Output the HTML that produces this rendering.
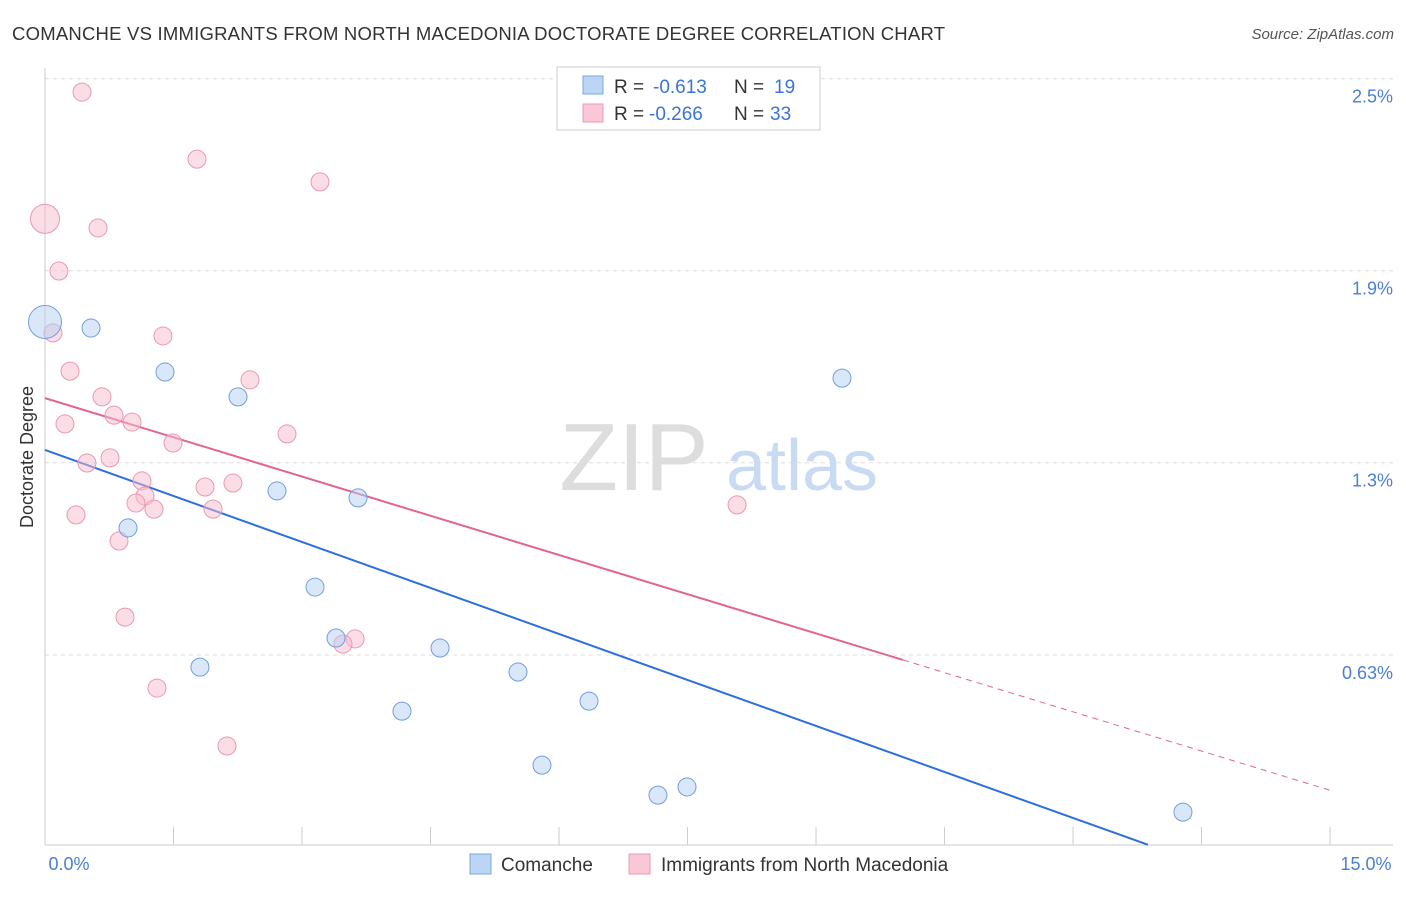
<!DOCTYPE html>
<html><head><meta charset="utf-8">
<style>
body{margin:0;background:#fff;font-family:"Liberation Sans",sans-serif;}
svg text{font-family:"Liberation Sans",sans-serif;}
</style></head>
<body>
<svg width="1406" height="892" xmlns="http://www.w3.org/2000/svg">
<text x="12" y="40" font-size="18.5" fill="#333" textLength="933" lengthAdjust="spacing">COMANCHE VS IMMIGRANTS FROM NORTH MACEDONIA DOCTORATE DEGREE CORRELATION CHART</text>
<text x="1394" y="39" font-size="15" fill="#555" text-anchor="end" font-style="italic">Source: ZipAtlas.com</text>
<g id="grid"></g>
<g>
<text x="634" y="490" font-size="96" font-family="Liberation Serif,serif" fill="#ddd" text-anchor="middle">ZIP</text>
<text x="802" y="490" font-size="72" fill="#c9dbf3" text-anchor="middle">atlas</text>
</g>
<line x1="45" y1="68" x2="45" y2="845" stroke="#ccc"/>
<line x1="45" y1="845" x2="1393" y2="845" stroke="#ccc"/>
<g id="xticks"></g>
<g id="ylabels"></g>
<text x="69" y="870" font-size="18" fill="#4a7fd4" text-anchor="middle">0.0%</text>
<text x="1366" y="870" font-size="18" fill="#4a7fd4" text-anchor="middle">15.0%</text>
<text transform="translate(33,457) rotate(-90)" font-size="18" fill="#333" text-anchor="middle">Doctorate Degree</text>
<g id="lines"></g>
<g id="pts"></g>
<g>
<rect x="557" y="67" width="263" height="63" fill="#fff" stroke="#ccc"/>
<rect x="583" y="76" width="20" height="18" fill="#bcd5f5" stroke="#7aa7e4"/>
<rect x="583" y="104" width="20" height="18" fill="#f9c7d5" stroke="#eb98b2"/>
<text x="614" y="93" font-size="19" fill="#333">R =</text>
<text x="653" y="93" font-size="19" fill="#3a74d6">-0.613</text>
<text x="734" y="93" font-size="19" fill="#333">N =</text>
<text x="774" y="93" font-size="19" fill="#3a74d6">19</text>
<text x="614" y="120" font-size="19" fill="#333">R =</text>
<text x="649" y="120" font-size="19" fill="#3a74d6">-0.266</text>
<text x="734" y="120" font-size="19" fill="#333">N =</text>
<text x="770" y="120" font-size="19" fill="#3a74d6">33</text>
</g>
<g>
<rect x="470" y="854" width="21" height="20" fill="#bcd5f5" stroke="#7aa7e4"/>
<text x="501" y="871" font-size="19" fill="#333">Comanche</text>
<rect x="629" y="854" width="21" height="20" fill="#f9c7d5" stroke="#eb98b2"/>
<text x="661" y="871" font-size="19" fill="#333">Immigrants from North Macedonia</text>
</g>
</svg>
<script>
const yTicks=[0.633,1.267,1.9,2.533];
const yTickLabels=["0.63%","1.3%","1.9%","2.5%"];
const xTickVals=[1.5,3,4.5,6,7.5,9,10.5,12,13.5,15];
const blueX=[0,0.537,1.401,2.253,2.708,3.654,0.969,3.152,3.397,4.611,1.809,5.521,4.167,6.350,5.801,7.155,7.494,9.303,13.283];
const blueY=[1.731,1.711,1.566,1.484,1.174,1.151,1.052,0.857,0.689,0.656,0.593,0.577,0.448,0.481,0.270,0.171,0.198,1.546,0.115];
const blueR=[16,8.5,8.5,8.5,8.5,8.5,8.5,8.5,8.5,8.5,8.5,8.5,8.5,8.5,8.5,8.5,8.5,8.5,8.5];
const pinkX=[0.432,1.774,3.210,0,0.619,0.163,0.093,1.377,0.292,2.393,0.665,0.233,0.805,1.016,2.825,1.494,0.490,0.759,1.132,1.868,2.194,1.167,1.062,1.272,1.961,0.362,8.078,0.864,0.934,3.619,3.478,1.307,2.124];
const pinkY=[2.489,2.268,2.193,2.071,2.041,1.899,1.695,1.685,1.569,1.540,1.484,1.395,1.424,1.401,1.362,1.332,1.266,1.283,1.207,1.187,1.200,1.157,1.134,1.114,1.114,1.095,1.128,1.009,0.758,0.686,0.669,0.524,0.333];
const pinkR=[8.5,8.5,8.5,14,8.5,8.5,8.5,8.5,8.5,8.5,8.5,8.5,8.5,8.5,8.5,8.5,8.5,8.5,8.5,8.5,8.5,8.5,8.5,8.5,8.5,8.5,8.5,8.5,8.5,8.5,8.5,8.5,8.5];
const blueTrend=[1.309,-0.1011];
const pinkTrend=[1.480,-0.0862];
const pinkSolidEnd=10.015;
const blueEnd=12.875;

const NS="http://www.w3.org/2000/svg";
const sx=v=>45+v*85.67;
const sy=v=>847-v*303.3;
function mk(tag,attrs,parent){const e=document.createElementNS(NS,tag);for(const k in attrs)e.setAttribute(k,attrs[k]);parent.appendChild(e);return e;}
const grid=document.getElementById('grid'),yl=document.getElementById('ylabels'),xt=document.getElementById('xticks');
yTicks.forEach((v,i)=>{
 const l=mk('line',{x1:45,x2:1393,y1:sy(v),y2:sy(v),stroke:'#ddd','stroke-dasharray':'4,4'},grid);
 
 
 const t=mk('text',{x:1393,y:sy(v)+24,'font-size':18,fill:'#4a7fd4','text-anchor':'end'},yl);
 t.textContent=yTickLabels[i];
 
 
});
xTickVals.forEach(v=>{
 const l=mk('line',{x1:sx(v),x2:sx(v),y1:827,y2:845,stroke:'#ccc'},xt);
 
 
});
const lines=document.getElementById('lines');
let b=mk('line',{x1:sx(0),y1:sy(blueTrend[0]),x2:sx(blueEnd),y2:sy(blueTrend[0]+blueTrend[1]*blueEnd),stroke:'#2d6fdc','stroke-width':2},lines);


let p=mk('line',{x1:sx(0),y1:sy(pinkTrend[0]),x2:sx(pinkSolidEnd),y2:sy(pinkTrend[0]+pinkTrend[1]*pinkSolidEnd),stroke:'#e06690','stroke-width':2},lines);


let pd=mk('line',{x1:sx(pinkSolidEnd),y1:sy(pinkTrend[0]+pinkTrend[1]*pinkSolidEnd),x2:sx(15),y2:sy(pinkTrend[0]+pinkTrend[1]*15),stroke:'#e06690','stroke-width':1,'stroke-dasharray':'6,5'},lines);


const pts=document.getElementById('pts');
pinkX.forEach((x,i)=>{
 const c=mk('circle',{cx:sx(x),cy:sy(pinkY[i]),r:pinkR[i]+0.5,fill:'#f7bccd','fill-opacity':0.5,stroke:'#eb98b2','stroke-width':1},pts);
 
 
});
blueX.forEach((x,i)=>{
 const c=mk('circle',{cx:sx(x),cy:sy(blueY[i]),r:blueR[i]+0.5,fill:'#b6d0f3','fill-opacity':0.5,stroke:'#6f9fe0','stroke-width':1},pts);
 
 
});
</script>
</body></html>
